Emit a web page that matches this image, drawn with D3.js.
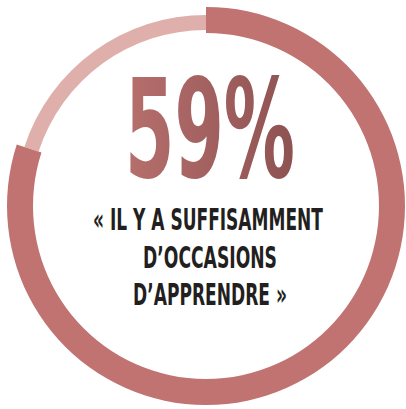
<!DOCTYPE html>
<html>
<head>
<meta charset="utf-8">
<script src="https://cdn.jsdelivr.net/npm/d3@7"></script>
<style>
  html, body { margin: 0; padding: 0; background: #fff; }
  svg { display: block; }
</style>
</head>
<body>
<svg id="chart" width="406" height="409"></svg>
<script>
// values
var shareLabels = ["oui", "reste"];
var shareValues = [80, 20];          // arc share as drawn on the ring
var bigLabel = "59%";
var quoteLines = ["« IL Y A SUFFISAMMENT", "D’OCCASIONS", "D’APPRENDRE »"];

var svg = d3.select("#chart");
var cx = 206, cy = 206;

var defs = svg.append("defs");
var grad = defs.append("linearGradient")
    .attr("id", "numGrad")
    .attr("x1", "0%").attr("x2", "100%")
    .attr("y1", "0%").attr("y2", "0%");
grad.append("stop").attr("offset", "0%").attr("stop-color", "#b66f6d");
grad.append("stop").attr("offset", "100%").attr("stop-color", "#8e5252");

var pie = d3.pie().sort(null).value(function(d){ return d; });
var arcs = pie(shareValues);

var ring = svg.append("g").attr("transform", "translate(" + cx + "," + cy + ")");

// thin light track for the remainder
var lightArc = d3.arc().innerRadius(176).outerRadius(191);
// thick dark arc for the share
var darkArc = d3.arc().innerRadius(173).outerRadius(199);

ring.append("path")
    .attr("d", lightArc(arcs[1]))
    .attr("fill", "#dfb0ab");
ring.append("path")
    .attr("d", darkArc(arcs[0]))
    .attr("fill", "#c07371");

var fontStack = "'Liberation Sans Narrow', 'DejaVu Sans Condensed', 'Arial Narrow', sans-serif";

// squeeze a text horizontally to a target width around centre x
function squeeze(sel, x, y, width) {
  var w = sel.node().getComputedTextLength();
  var sx = width / w;
  sel.attr("x", 0).attr("y", 0)
     .attr("transform", "translate(" + x + "," + y + ") scale(" + sx + ",1)");
}

var big = svg.append("text")
    .attr("text-anchor", "middle")
    .style("font-family", fontStack)
    .style("font-weight", "bold")
    .style("font-size", "138px")
    .attr("fill", "url(#numGrad)")
    .text(bigLabel);
squeeze(big, 210, 177, 170);

var lineWidths = [230, 134, 154];
var lineX = [208, 210, 210];
quoteLines.forEach(function(t, i) {
  var ln = svg.append("text")
      .attr("text-anchor", "middle")
      .style("font-family", fontStack)
      .style("font-weight", "bold")
      .style("font-size", "31px")
      .attr("fill", "#231f20")
      .text(t);
  squeeze(ln, lineX[i], 230 + i * 37.5, lineWidths[i]);
});
</script>
</body>
</html>
